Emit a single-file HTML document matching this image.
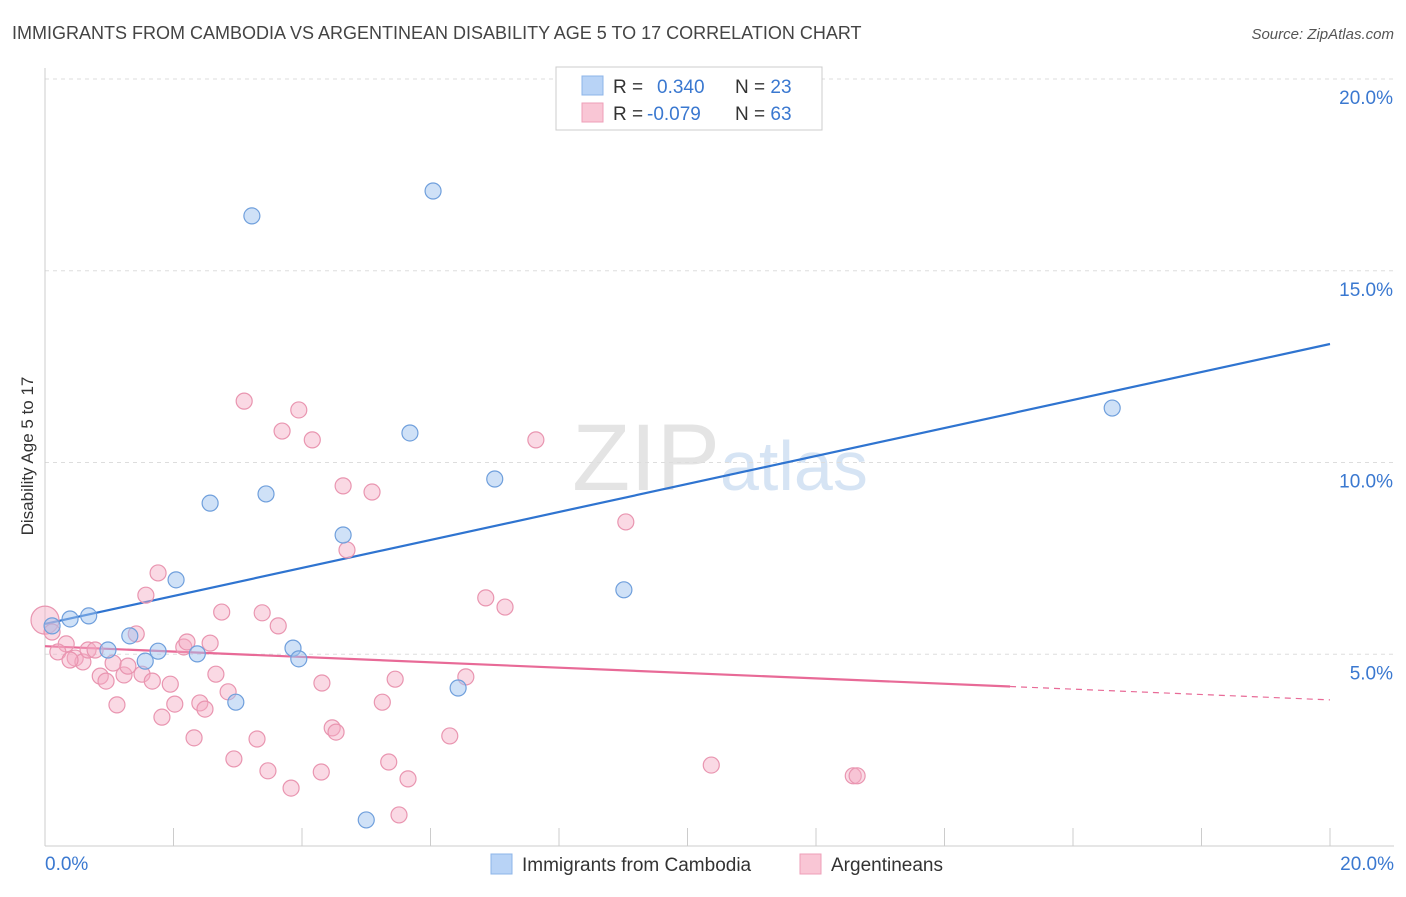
<!DOCTYPE html>
<html><head><meta charset="utf-8">
<style>
body{margin:0;background:#fff;font-family:"Liberation Sans",sans-serif;}
svg text{font-family:"Liberation Sans",sans-serif;}
</style></head>
<body>
<svg id="chart" width="1406" height="892" xmlns="http://www.w3.org/2000/svg">
<text x="12" y="39" font-size="18" fill="#444">IMMIGRANTS FROM CAMBODIA VS ARGENTINEAN DISABILITY AGE 5 TO 17 CORRELATION CHART</text>
<text x="1394" y="39" font-size="15" fill="#555" font-style="italic" text-anchor="end">Source: ZipAtlas.com</text>
<text x="720" y="490" font-size="95" fill="#e4e4e4" text-anchor="middle" font-family="Liberation Serif">ZIP<tspan fill="#d6e4f4" font-family="Liberation Sans" font-size="70">atlas</tspan></text>
<g id="grid"></g>
<g id="axes"></g>
<g id="lines"></g>
<g id="points"></g>
<text transform="translate(33,456) rotate(-90)" font-size="17" fill="#333" text-anchor="middle">Disability Age 5 to 17</text>
<g>
<rect x="556" y="67" width="266" height="63" fill="#fff" stroke="#ccc"/>
<rect x="582" y="76" width="21" height="19" fill="#b8d3f6" stroke="#8db4e8"/>
<rect x="582" y="103" width="21" height="19" fill="#f9c6d5" stroke="#ee9fb8"/>
<text x="613" y="93" font-size="19" fill="#333">R = <tspan fill="#3a78d0" x="657">0.340</tspan><tspan x="735" fill="#333">N = </tspan><tspan fill="#3a78d0">23</tspan></text>
<text x="613" y="120" font-size="19" fill="#333">R = <tspan fill="#3a78d0" x="647">-0.079</tspan><tspan x="735" fill="#333">N = </tspan><tspan fill="#3a78d0">63</tspan></text>
</g>
<g>
<rect x="491" y="854" width="21" height="20" fill="#b8d3f6" stroke="#8db4e8"/>
<text x="522" y="871" font-size="19" fill="#333">Immigrants from Cambodia</text>
<rect x="800" y="854" width="21" height="20" fill="#f9c6d5" stroke="#ee9fb8"/>
<text x="831" y="871" font-size="19" fill="#333">Argentineans</text>
</g>
</svg>
<script>
const yTicks=[5,10,15,20];
const yTickLabels=["5.0%","10.0%","15.0%","20.0%"];
const xTickLabels=["0.0%","20.0%"];
const blueX=[3.22,6.04,16.61,5.68,7.00,3.44,2.57,4.64,2.04,9.01,0.68,0.39,0.11,1.32,0.98,1.76,2.37,3.86,3.95,1.56,2.97,6.43,5.00];
const blueY=[16.43,17.08,11.42,10.77,9.57,9.18,8.94,8.11,6.94,6.68,6.00,5.92,5.74,5.48,5.11,5.08,5.01,5.16,4.88,4.82,3.75,4.12,0.68];
const pinkX=[0,0.11,0.33,0.2,0.47,0.59,0.67,0.78,0.86,0.95,1.06,1.12,1.23,1.29,1.42,1.51,1.57,1.67,1.76,1.82,1.95,2.02,2.16,2.21,2.32,2.41,2.49,2.57,2.66,2.75,2.85,2.94,3.1,3.3,3.38,3.47,3.63,3.69,3.83,3.95,4.16,4.31,4.3,4.47,4.53,4.64,4.7,5.09,5.25,5.35,5.45,5.51,5.65,6.3,6.55,6.86,7.16,7.64,9.04,10.37,12.58,12.64,0.39];
const pinkY=[5.89,5.58,5.27,5.06,4.9,4.8,5.11,5.11,4.43,4.3,4.77,3.68,4.46,4.69,5.53,4.48,6.54,4.3,7.12,3.36,4.22,3.7,5.19,5.32,2.82,3.73,3.57,5.29,4.48,6.1,4.02,2.27,11.6,2.79,6.08,1.96,5.74,10.82,1.51,11.37,10.59,4.25,1.93,3.08,2.97,9.39,7.72,9.23,3.75,2.19,4.35,0.81,1.75,2.87,4.41,6.47,6.23,10.59,8.45,2.11,1.83,1.83,4.85];
const blueTrend=[5.79,13.09];
const pinkTrend=[5.21,3.81];
const pinkSolidEnd=15.02;
const NS="http://www.w3.org/2000/svg";
const X=v=>45+v*64.25, Y=v=>846-v*38.35;
function mk(tag,attrs,parent){const e=document.createElementNS(NS,tag);for(const k in attrs)e.setAttribute(k,attrs[k]);parent.appendChild(e);return e;}
const grid=document.getElementById('grid'),axes=document.getElementById('axes'),lines=document.getElementById('lines'),pts=document.getElementById('points');
yTicks.forEach((t,i)=>{
 const l=mk('line',{x1:45,x2:1394,y1:Y(t),y2:Y(t),stroke:'#ddd','stroke-dasharray':'4,4'},grid);
 
 
 const tx=mk('text',{x:1393,y:Y(t)+25,'font-size':19,fill:'#3a78d0','text-anchor':'end'},grid);
 tx.textContent=yTickLabels[i];
 
 
});
mk('line',{x1:45,x2:45,y1:68,y2:846,stroke:'#ccc'},axes);
mk('line',{x1:45,x2:1394,y1:846,y2:846,stroke:'#ccc'},axes);
for(let i=1;i<=10;i++){const tk=mk('line',{x1:X(i*2),x2:X(i*2),y1:828,y2:846,stroke:'#ccc'},axes);
 
 }
[[0,'start',45],[20,'end',1394]].forEach((a,i)=>{const t=mk('text',{x:a[2],y:870,'font-size':19,fill:'#3a78d0','text-anchor':a[1]},axes);t.textContent=xTickLabels[i];
 
 });
const bl=mk('line',{x1:X(0),y1:Y(blueTrend[0]),x2:X(20),y2:Y(blueTrend[1]),stroke:'#2f74d0','stroke-width':2.2},lines);


const pm=pinkTrend[0]+(pinkTrend[1]-pinkTrend[0])*pinkSolidEnd/20;
const pl=mk('line',{x1:X(0),y1:Y(pinkTrend[0]),x2:X(pinkSolidEnd),y2:Y(pm),stroke:'#e86a97','stroke-width':2.2},lines);


const pd=mk('line',{x1:X(pinkSolidEnd),y1:Y(pm),x2:X(20),y2:Y(pinkTrend[1]),stroke:'#e86a97','stroke-width':1.2,'stroke-dasharray':'6,5'},lines);


pinkX.forEach((x,i)=>{const c=mk('circle',{cx:X(x),cy:Y(pinkY[i]),r:i===0?14:8,fill:'rgba(245,170,195,0.45)',stroke:'#e995b0','stroke-width':1.2},pts);
 
 });
blueX.forEach((x,i)=>{const c=mk('circle',{cx:X(x),cy:Y(blueY[i]),r:8,fill:'rgba(160,195,240,0.5)',stroke:'#6f9fdc','stroke-width':1.2},pts);
 
 });
</script>
</body></html>
